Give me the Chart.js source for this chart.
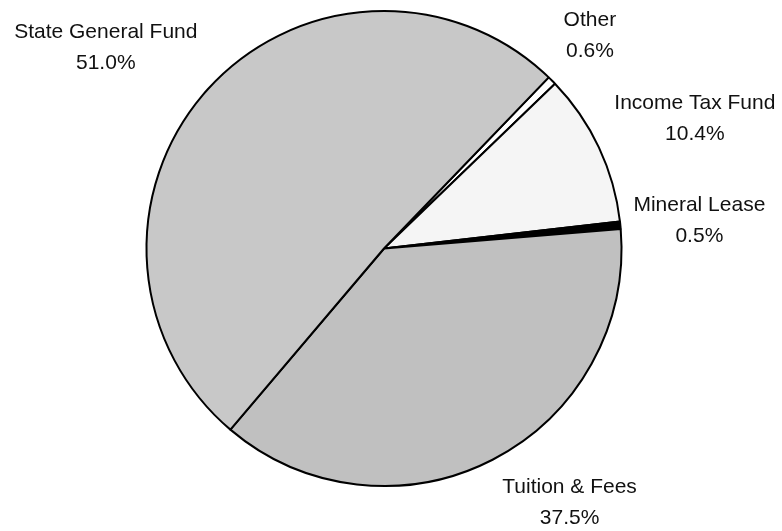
<!DOCTYPE html>
<html>
<head>
<meta charset="utf-8">
<script src="https://cdn.jsdelivr.net/npm/chart.js@4"></script>
<style>
  html, body { margin: 0; padding: 0; background: #fff; }
  #wrap { width: 782px; height: 531px; }
</style>
</head>
<body>
<div id="wrap"><canvas id="fundChart" width="782" height="531"></canvas></div>
<script>
// Funding sources pie
const categories = ['Other', 'Income Tax Fund', 'Mineral Lease', 'Tuition & Fees', 'State General Fund'];
const shares = [0.6, 10.4, 0.5, 37.5, 51.0];
const sliceColors = ['#ffffff', '#f5f5f5', '#000000', '#c0c0c0', '#c8c8c8'];

// where each label sits relative to the outer middle of its slice
const labelOffsets = [
    [38, -45],
    [96, -29],
    [79, -5],
    [77, 42],
    [-102, -42]
];

const outsideLabels = {
    id: 'outsideLabels',
    afterDatasetsDraw(chart) {
        const ctx = chart.ctx;
        const arcs = chart.getDatasetMeta(0).data;
        ctx.save();
        ctx.font = '21px "Liberation Sans", Arial, sans-serif';
        ctx.fillStyle = '#111';
        ctx.textAlign = 'center';
        ctx.textBaseline = 'middle';
        arcs.forEach((arc, i) => {
            const mid = (arc.startAngle + arc.endAngle) / 2;
            const px = arc.x + Math.cos(mid) * arc.outerRadius + labelOffsets[i][0];
            const py = arc.y + Math.sin(mid) * arc.outerRadius + labelOffsets[i][1];
            ctx.fillText(categories[i], px, py - 15);
            ctx.fillText(shares[i].toFixed(1) + '%', px, py + 16);
        });
        ctx.restore();
    }
};

const fundChart = new Chart(document.getElementById('fundChart').getContext('2d'), {
    type: 'pie',
    data: {
        labels: categories,
        datasets: [{
            data: shares,
            backgroundColor: sliceColors,
            borderColor: '#000',
            borderWidth: 2
        }]
    },
    options: {
        responsive: false,
        animation: false,
        rotation: 43.9,
        layout: {
            padding: { top: 10, bottom: 44, left: 0, right: 14 }
        },
        plugins: {
            legend: { display: false },
            tooltip: { enabled: false }
        },
        events: []
    },
    plugins: [outsideLabels]
});
</script>
</body>
</html>
